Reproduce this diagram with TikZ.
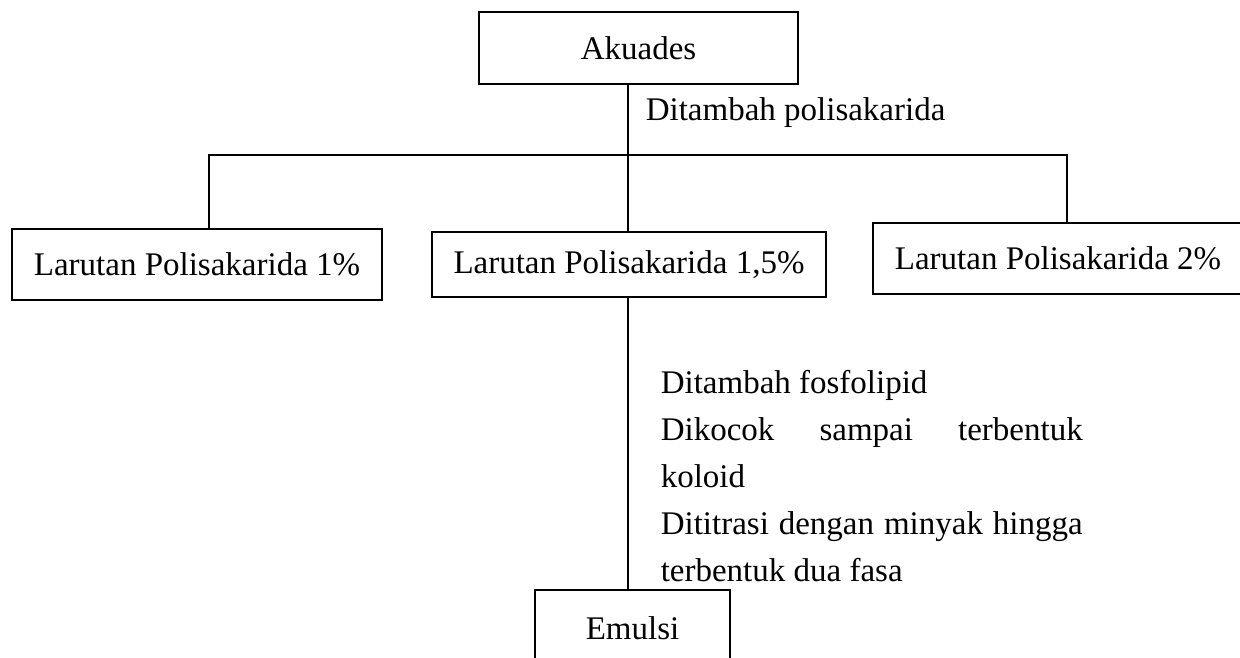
\documentclass[tikz,border=0pt]{standalone}
\usepackage{fontspec}
\setmainfont{Liberation Serif}
\begin{document}
\begin{tikzpicture}[x=1pt, y=-1pt, line width=1.5pt, line join=miter,
    font=\fontsize{33}{47}\selectfont,
    box/.style={draw, inner sep=0pt},
    note/.style={inner sep=0pt}]
    \useasboundingbox (0,0) rectangle (1240,657);
    % kotak
    \node[box, minimum width=319pt, minimum height=72pt] (akuades) at (638.5,48) {Akuades};
    \node[box, minimum width=370pt, minimum height=71pt] (p1) at (197,264.5) {Larutan Polisakarida 1\%};
    \node[box, minimum width=394pt, minimum height=65pt] (p15) at (629,264.5) {Larutan Polisakarida 1,5\%};
    \node[box, minimum width=370pt, minimum height=71pt] (p2) at (1058,258.5) {Larutan Polisakarida 2\%};
    \node[box, minimum width=195pt, minimum height=76pt] (emulsi) at (632.5,628) {Emulsi};
    % garis
    \coordinate (split) at (628,155);
    \coordinate (l) at (209,155);
    \coordinate (r) at (1067,155);
    \draw (akuades.south -| split) -- (split) -- (split |- p15.north);
    \draw (l |- p1.north) -- (l) -- (r) -- (r |- p2.north);
    \draw (p15.south -| split) -- (split |- emulsi.north);
    % keterangan
    \node[note, anchor=west] (tpoli) at (645,113) {Ditambah polisakarida};
    \node[note, anchor=north west, text width=422pt, align=justify] (tproses) at (660,370)
        {Ditambah fosfolipid\par
         Dikocok sampai terbentuk\linebreak koloid\par
         Dititrasi dengan minyak hingga\linebreak terbentuk dua fasa};
\end{tikzpicture}
\end{document}
